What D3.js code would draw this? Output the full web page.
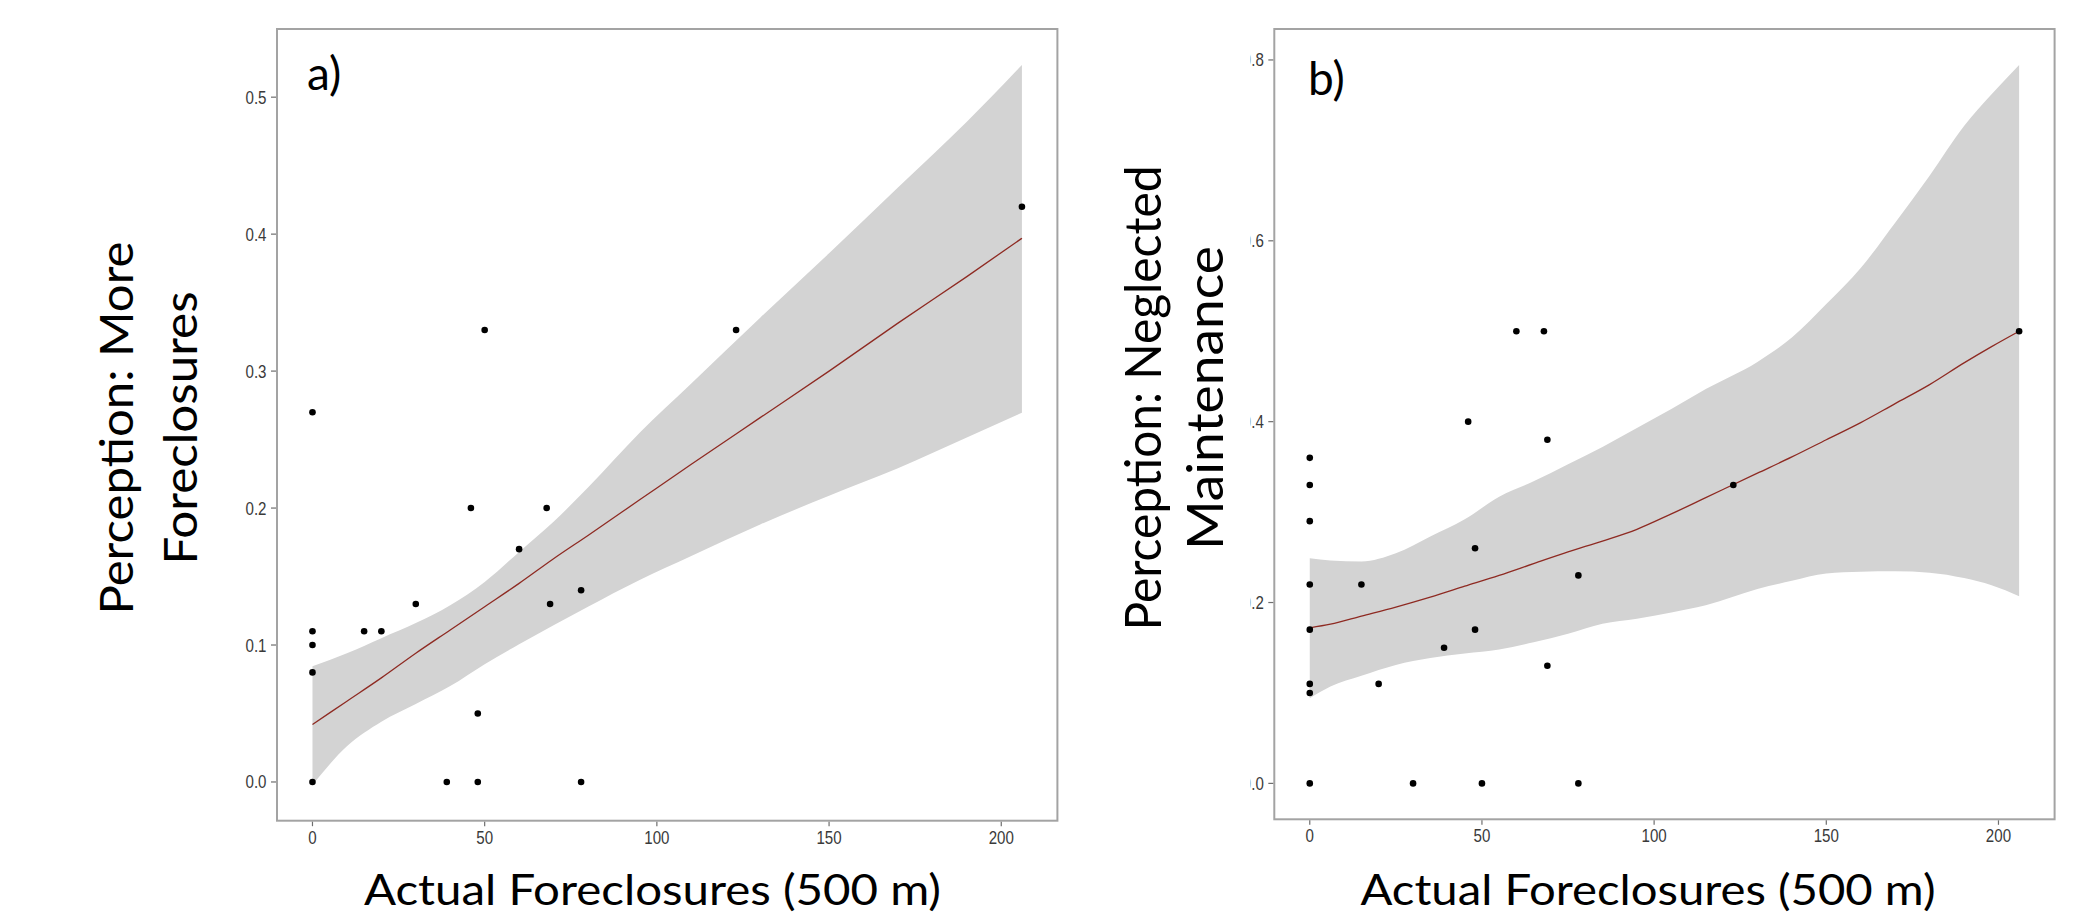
<!DOCTYPE html>
<html><head><meta charset="utf-8">
<script src="https://cdn.jsdelivr.net/npm/d3@7"></script>
<style>body{margin:0;background:#fff} svg{display:block}</style>
</head><body>
<svg id="c" width="2097" height="920"></svg>
<script>
// ---------------- data ----------------
const xTicks = [0, 50, 100, 150, 200];
const aYTicks = [0, 0.1, 0.2, 0.3, 0.4, 0.5];
const bYTicks = [0, 0.2, 0.4, 0.6, 0.8];

// panel a: Perception: More Foreclosures
const aX = [0, 0, 0, 0, 0, 46, 68, 60, 78, 30, 69, 15, 20, 48, 39, 48, 78, 50, 123, 206];
const aY = [0.27, 0.11, 0.10, 0.08, 0, 0.20, 0.20, 0.17, 0.14, 0.13, 0.13, 0.11, 0.11, 0.05, 0, 0, 0, 0.33, 0.33, 0.42];
const aBandX = [0, 10, 20, 30, 40, 50, 60, 70, 80, 95, 110, 130, 150, 170, 190, 206];
const aLower = [-0.002, 0.026, 0.044, 0.057, 0.070, 0.086, 0.1005, 0.1145, 0.128, 0.1475, 0.165, 0.188, 0.209, 0.229, 0.2515, 0.2695];
const aUpper = [0.0845, 0.094, 0.105, 0.116, 0.129, 0.146, 0.168, 0.19, 0.215, 0.255, 0.291, 0.339, 0.386, 0.434, 0.482, 0.5235];
const aFit   = [0.042, 0.059, 0.076, 0.094, 0.111, 0.128, 0.145, 0.163, 0.180, 0.206, 0.232, 0.266, 0.300, 0.335, 0.369, 0.397];

// panel b: Perception: Neglected Maintenance
const bX = [0, 0, 0, 0, 0, 0, 0, 0, 15, 20, 30, 39, 46, 48, 48, 50, 60, 68, 69, 69, 78, 78, 123, 206];
const bY = [0.36, 0.33, 0.29, 0.22, 0.17, 0.11, 0.10, 0, 0.22, 0.11, 0, 0.15, 0.40, 0.26, 0.17, 0, 0.50, 0.50, 0.38, 0.13, 0.23, 0, 0.33, 0.50];
const bBandX = [0, 6, 15, 25, 35, 45, 55, 65, 75, 85, 95, 105, 115, 130, 140, 150, 160, 170, 180, 190, 198, 206];
const bLower = [0.094, 0.107, 0.119, 0.131, 0.1386, 0.1436, 0.148, 0.156, 0.1655, 0.1765, 0.182, 0.189, 0.197, 0.215, 0.224, 0.232, 0.234, 0.2345, 0.233, 0.227, 0.219, 0.207];
const bUpper = [0.249, 0.2466, 0.2455, 0.2545, 0.273, 0.292, 0.317, 0.334, 0.353, 0.372, 0.393, 0.414, 0.436, 0.466, 0.493, 0.53, 0.57, 0.62, 0.672, 0.727, 0.762, 0.7945];
const bFit   = [0.172, 0.176, 0.185, 0.195, 0.206, 0.218, 0.23, 0.243, 0.256, 0.268, 0.281, 0.298, 0.316, 0.343, 0.361, 0.38, 0.399, 0.42, 0.441, 0.465, 0.483, 0.50];

const xTitle = "Actual Foreclosures (500 m)";
const aTitle = ["Perception: More", "Foreclosures"];
const bTitle = ["Perception: Neglected", "Maintenance"];

// ---------------- layout ----------------
const svg = d3.select("#c");
const panels = [
  {id:"a", label:"a)", left:277, right:1057.4, top:29, bottom:820.7,
   px:aX, py:aY, bx:aBandX, lo:aLower, hi:aUpper, fit:aFit, yTicks:aYTicks,
   title:aTitle, titleX:[133, 196.5], titleY:428, titleLen:[373, 273], titleSize:46,
   labelX:307, labelY:90, clipLabels:null, xTitleCenter:652.5, xTitleLen:577},
  {id:"b", label:"b)", left:1274.3, right:2054.6, top:29, bottom:819.3,
   px:bX, py:bY, bx:bBandX, lo:bLower, hi:bUpper, fit:bFit, yTicks:bYTicks,
   title:bTitle, titleX:[1161, 1223], titleY:398, titleLen:[465, 304], titleSize:50,
   labelX:1308, labelY:95, clipLabels:1250.5, xTitleCenter:1648, xTitleLen:575}
];

function expand(lo, hi){ const r = hi - lo; return [lo - 0.05*r, hi + 0.05*r]; }

panels.forEach(p => {
  const g = svg.append("g");
  const xAll = p.px.concat(p.bx);
  const yAll = p.py.concat(p.lo, p.hi);
  const x = d3.scaleLinear().domain(expand(d3.min(xAll), d3.max(xAll))).range([p.left, p.right]);
  const y = d3.scaleLinear().domain(expand(d3.min(yAll), d3.max(yAll))).range([p.bottom, p.top]);

  const clipId = "clip-" + p.id;
  svg.append("clipPath").attr("id", clipId).append("rect")
    .attr("x", p.left).attr("y", p.top).attr("width", p.right - p.left).attr("height", p.bottom - p.top);

  const plot = g.append("g").attr("clip-path", `url(#${clipId})`);
  const band = p.bx.map((v, i) => ({x: v, lo: p.lo[i], hi: p.hi[i], f: p.fit[i]}));

  plot.append("path").datum(band)
    .attr("fill", "#d3d3d3")
    .attr("d", d3.area().x(d => x(d.x)).y0(d => y(d.lo)).y1(d => y(d.hi)).curve(d3.curveMonotoneX));

  plot.append("path").datum(band)
    .attr("fill", "none").attr("stroke", "#8e2a22").attr("stroke-width", 1.3)
    .attr("d", d3.line().x(d => x(d.x)).y(d => y(d.f)).curve(d3.curveMonotoneX));

  plot.selectAll("circle").data(p.px.map((v, i) => [v, p.py[i]])).join("circle")
    .attr("cx", d => x(d[0])).attr("cy", d => y(d[1])).attr("r", 3.3).attr("fill", "#000");

  // frame
  g.append("rect").attr("x", p.left).attr("y", p.top)
    .attr("width", p.right - p.left).attr("height", p.bottom - p.top)
    .attr("fill", "none").attr("stroke", "#a3a3a3").attr("stroke-width", 2);

  // x axis ticks + labels
  const xa = g.append("g");
  xTicks.forEach(t => {
    xa.append("line").attr("x1", x(t)).attr("x2", x(t)).attr("y1", p.bottom + 1).attr("y2", p.bottom + 5.5)
      .attr("stroke", "#6e6e6e").attr("stroke-width", 1.2);
    xa.append("text").attr("transform", `translate(${x(t)},${p.bottom + 23}) scale(0.84,1)`)
      .attr("text-anchor", "middle").attr("font-family", "Liberation Sans, Arial, sans-serif")
      .attr("font-size", 18).attr("fill", "#3a3a3a").text(d3.format("d")(t));
  });

  // y axis ticks + labels
  const ya = g.append("g");
  let yl = ya;
  if (p.clipLabels !== null) {
    const cid = "clipy-" + p.id;
    svg.append("clipPath").attr("id", cid).append("rect")
      .attr("x", p.clipLabels).attr("y", 0).attr("width", p.left - p.clipLabels).attr("height", 920);
    yl = ya.append("g").attr("clip-path", `url(#${cid})`);
  }
  p.yTicks.forEach(t => {
    ya.append("line").attr("x1", p.left - 6).attr("x2", p.left - 1).attr("y1", y(t)).attr("y2", y(t))
      .attr("stroke", "#6e6e6e").attr("stroke-width", 1.2);
    yl.append("text").attr("transform", `translate(${p.left - 10.5},${y(t) + 6.5}) scale(0.84,1)`)
      .attr("text-anchor", "end").attr("font-family", "Liberation Sans, Arial, sans-serif")
      .attr("font-size", 18).attr("fill", "#3a3a3a").text(d3.format(".1f")(t));
  });

  // panel label
  g.append("text").attr("x", p.labelX).attr("y", p.labelY)
    .attr("font-family", "Lato, 'Open Sans', sans-serif").attr("font-size", 46).attr("fill", "#000")
    .text(p.label);

  // y title (two lines, rotated)
  p.title.forEach((line, i) => {
    g.append("text")
      .attr("transform", `translate(${p.titleX[i]},${p.titleY}) rotate(-90)`)
      .attr("text-anchor", "middle").attr("font-family", "Lato, 'Open Sans', sans-serif")
      .attr("font-size", p.titleSize).attr("fill", "#000")
      .attr("textLength", p.titleLen[i]).attr("lengthAdjust", "spacingAndGlyphs")
      .text(line);
  });

  // x title
  g.append("text").attr("x", p.xTitleCenter).attr("y", 905)
    .attr("text-anchor", "middle").attr("font-family", "Lato, 'Open Sans', sans-serif")
    .attr("font-size", 42).attr("fill", "#000")
    .attr("textLength", p.xTitleLen).attr("lengthAdjust", "spacingAndGlyphs")
    .text(xTitle);
});
</script>
</body></html>
